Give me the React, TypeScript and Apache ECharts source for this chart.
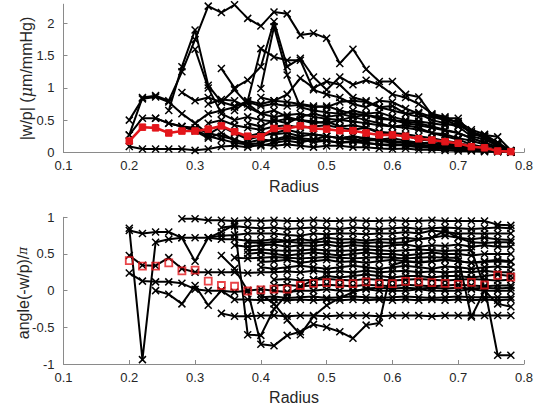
import React, { useEffect, useRef } from "react";
import * as echarts from "echarts";

const N = null;
const FONT = "'Liberation Sans', Arial, Helvetica, sans-serif";
const RED = "#e3161b";
const AXIS_GREY = "#8a8a8a";
const TEXT_DARK = "#262626";

const RADIUS = [0.2, 0.22, 0.24, 0.26, 0.28, 0.3, 0.32, 0.34, 0.36, 0.38, 0.4, 0.42, 0.44, 0.46, 0.48, 0.5, 0.52, 0.54, 0.56, 0.58, 0.6, 0.62, 0.64, 0.66, 0.68, 0.7, 0.72, 0.74, 0.76, 0.78];

const X_TICKS = [0.1, 0.2, 0.3, 0.4, 0.5, 0.6, 0.7, 0.8];
const TOP_Y_TICKS = [0, 0.5, 1, 1.5, 2];
const BOTTOM_Y_TICKS = [-1, -0.5, 0, 0.5, 1];

// |w/p| per vessel
const T1 = [0.09, 0.05, 0.05, 0.05, 0.05, 0.03, 0.05, 0.09, 0.1, 0.08, 0.12, 0.1, 0.12, 0.1, 0.08, 0.1, 0.1, 0.08, 0.08, 0.06, 0.05, 0.06, 0.04, 0.04, 0.03, 0.02, 0.02, 0.01, 0.01, 0.0];
const T2 = [0.27, 0.85, 0.88, 0.8, 1.25, 1.75, 2.27, 2.17, 2.29, 2.08, 1.96, 2.18, 2.15, 1.82, 1.85, 1.77, 1.38, 1.6, 1.29, 1.1, 1.1, 0.9, 0.86, 0.58, 0.53, 0.53, 0.27, 0.27, 0.24, 0.03];
const T3 = [0.5, 0.83, 0.86, 0.78, 0.6, 0.45, 0.28, 0.4, 0.3, 0.2, 0.25, 0.3, 0.35, 0.3, 0.28, 0.25, 0.22, 0.25, 0.2, 0.18, 0.15, 0.15, 0.12, 0.1, 0.08, 0.06, 0.05, 0.03, 0.02, 0.01];
const T4 = [0.27, 0.53, 0.53, 0.45, 0.4, 0.33, 0.22, 0.3, 0.18, 0.15, 0.2, 0.18, 0.22, 0.2, 0.16, 0.18, 0.15, 0.16, 0.14, 0.12, 0.12, 0.1, 0.08, 0.07, 0.06, 0.05, 0.04, 0.03, 0.02, 0.01];
const T5 = [N, N, 0.53, 0.45, 0.4, 0.35, 0.25, 0.2, 0.15, 0.12, 0.15, 0.2, 0.25, 0.22, 0.2, 0.25, 0.22, 0.2, 0.18, 0.2, 0.18, 0.15, 0.16, 0.12, 0.1, 0.08, 0.06, 0.05, 0.03, 0.01];
const T6 = [N, N, N, 0.65, 1.33, 1.9, 1.04, 0.78, 0.97, 0.75, 0.6, 0.65, 0.55, 0.5, 0.45, 0.48, 0.4, 0.42, 0.38, 0.3, 0.28, 0.26, 0.2, 0.18, 0.14, 0.12, 0.08, 0.05, 0.03, 0.01];
const T7 = [N, N, N, N, 0.93, 0.8, 0.85, 0.78, 0.72, 0.78, 0.72, 0.75, 0.72, 0.74, 0.7, 0.72, 0.65, 0.6, 0.58, 0.55, 0.5, 0.48, 0.45, 0.4, 0.35, 0.3, 0.22, 0.15, 0.08, 0.02];
const T8 = [N, N, N, N, N, 1.6, 1.0, 0.6, 0.5, 0.55, 0.5, 0.48, 0.52, 0.5, 0.48, 0.45, 0.5, 0.48, 0.45, 0.42, 0.4, 0.38, 0.35, 0.3, 0.28, 0.22, 0.18, 0.12, 0.06, 0.01];
const T9 = [N, N, N, N, N, N, N, 1.3, 1.0, 1.12, 1.33, 2.03, 1.33, 1.46, 1.17, 0.97, 1.17, 1.05, 1.12, 1.05, 0.9, 0.85, 0.75, 0.6, 0.55, 0.45, 0.3, 0.25, 0.15, 0.02];
const T10 = [N, N, N, N, N, N, N, N, 0.65, 0.8, 1.61, 1.48, 1.43, 1.43, 0.97, 0.9, 0.85, 0.75, 0.7, 0.8, 0.78, 0.68, 0.6, 0.5, 0.45, 0.4, 0.25, 0.2, 0.1, 0.01];
const T11 = [N, N, N, N, N, N, N, N, N, N, 0.99, 1.95, 1.2, 0.7, 0.65, 0.62, 0.6, 0.55, 0.58, 0.52, 0.5, 0.45, 0.42, 0.38, 0.34, 0.3, 0.22, 0.15, 0.08, 0.02];
const T12 = [N, N, N, N, N, N, 0.75, 0.82, 0.8, 0.7, 0.6, 0.55, 0.58, 0.6, 0.55, 0.52, 0.5, 0.55, 0.5, 0.45, 0.4, 0.42, 0.38, 0.3, 0.25, 0.2, 0.12, 0.08, 0.04, 0.01];
const T13 = [N, N, N, N, N, 0.45, 0.6, 0.65, 0.7, 0.8, 0.75, 0.8, 0.78, 0.75, 0.72, 0.7, 0.78, 0.8, 0.78, 0.7, 0.72, 0.6, 0.62, 0.55, 0.5, 0.48, 0.35, 0.28, 0.15, 0.02];
const T14 = [N, N, N, N, N, N, N, N, 0.3, 0.25, 0.3, 0.28, 0.3, 0.25, 0.28, 0.25, 0.22, 0.25, 0.22, 0.2, 0.22, 0.18, 0.15, 0.14, 0.12, 0.1, 0.08, 0.05, 0.03, 0.01];
const T15 = [N, N, N, N, 0.4, 0.38, 0.3, 0.25, 0.2, 0.12, 0.1, 0.15, 0.18, 0.15, 0.2, 0.18, 0.15, 0.18, 0.15, 0.12, 0.1, 0.12, 0.1, 0.08, 0.06, 0.05, 0.04, 0.02, 0.01, 0.0];
const T16 = [N, N, N, N, N, N, N, N, N, 0.45, 0.4, 0.5, 0.45, 0.55, 0.6, 0.55, 0.58, 0.65, 0.6, 0.62, 0.55, 0.5, 0.48, 0.45, 0.42, 0.45, 0.3, 0.22, 0.1, 0.02];
const T17 = [N, N, N, N, N, N, N, N, N, N, 0.85, 0.8, 0.9, 1.15, 1.0, 1.1, 1.05, 0.85, 0.8, 0.7, 0.65, 0.6, 0.55, 0.58, 0.5, 0.42, 0.32, 0.25, 0.12, 0.02];
const T18 = [N, N, N, N, N, N, 0.45, 0.5, 0.42, 0.38, 0.35, 0.4, 0.42, 0.38, 0.4, 0.42, 0.38, 0.35, 0.38, 0.32, 0.3, 0.28, 0.25, 0.22, 0.18, 0.15, 0.1, 0.06, 0.03, 0.01];
const TOP_MEAN = [0.175, 0.39, 0.38, 0.3, 0.33, 0.33, 0.36, 0.41, 0.32, 0.25, 0.24, 0.37, 0.37, 0.41, 0.37, 0.36, 0.335, 0.335, 0.3, 0.27, 0.27, 0.25, 0.21, 0.19, 0.165, 0.14, 0.087, 0.07, 0.02, 0.01];

// angle(-w/p)/pi per vessel
const B1 = [0.82, 0.78, 0.8, 0.8, 0.72, 0.4, 0.72, 0.7, 0.7, 0.68, 0.68, 0.7, 0.68, 0.7, 0.68, 0.72, 0.7, 0.7, 0.68, 0.7, 0.7, 0.72, 0.7, 0.72, 0.75, 0.72, 0.7, 0.72, 0.7, 0.69];
const B2 = [0.85, -0.94, 0.66, 0.7, 0.72, 0.72, 0.72, 0.75, 0.76, 0.78, 0.78, 0.78, 0.76, 0.75, 0.78, 0.77, 0.78, 0.78, 0.77, 0.78, 0.78, 0.8, 0.78, 0.82, 0.8, 0.78, 0.78, 0.78, 0.78, 0.78];
const B3 = [0.48, 0.345, 0.34, 0.45, 0.3, 0.25, 0.25, 0.25, 0.25, 0.24, 0.25, 0.25, 0.26, 0.25, 0.27, 0.25, 0.26, 0.25, 0.27, 0.25, 0.26, 0.27, 0.25, 0.26, 0.25, 0.26, 0.25, 0.27, 0.25, 0.25];
const B4 = [0.24, 0.13, 0.12, 0.12, 0.1, 0.02, 0.0, 0.0, -0.02, 0.0, 0.02, 0.0, -0.02, 0.0, 0.0, 0.02, 0.0, 0.0, 0.02, 0.0, 0.0, 0.0, 0.02, 0.0, 0.0, 0.0, 0.02, 0.0, 0.0, 0.0];
const B5 = [N, N, N, N, 0.98, 0.98, 0.96, 0.96, 0.95, 0.96, 0.95, 0.96, 0.95, 0.95, 0.96, 0.95, 0.95, 0.96, 0.95, 0.95, 0.96, 0.95, 0.95, 0.96, 0.95, 0.95, 0.95, 0.95, 0.9, 0.89];
const B6 = [N, N, 0.0, -0.05, -0.18, 0.07, -0.2, 0.0, -0.12, -0.12, -0.13, -0.12, -0.13, -0.12, -0.13, -0.12, -0.13, -0.12, -0.13, -0.12, -0.13, -0.12, -0.13, -0.12, -0.13, -0.12, -0.13, -0.12, -0.13, -0.12];
const B7 = [N, N, N, N, N, N, N, -0.31, -0.35, -0.35, -0.34, -0.34, -0.35, -0.34, -0.34, -0.35, -0.34, -0.34, -0.34, -0.35, -0.34, -0.34, -0.34, -0.35, -0.34, -0.34, -0.34, -0.34, -0.34, -0.34];
const B8 = [N, N, N, N, N, N, 0.72, 0.8, 0.9, -0.6, -0.61, -0.25, -0.05, 0.05, 0.15, 0.2, 0.18, 0.2, 0.22, 0.2, 0.18, 0.2, 0.2, 0.18, 0.2, 0.2, 0.18, 0.2, 0.22, 0.2];
const B9 = [N, N, N, N, N, N, N, 0.48, 0.3, 0.0, -0.73, -0.75, -0.61, -0.56, -0.46, -0.5, -0.56, -0.65, -0.47, -0.44, 0.35, 0.4, 0.38, 0.4, 0.42, 0.4, 0.38, 0.4, 0.42, 0.4];
const B10 = [N, N, N, N, N, N, N, N, 0.62, 0.6, 0.62, 0.63, 0.6, 0.62, 0.61, 0.63, 0.6, 0.62, 0.61, 0.6, 0.62, 0.63, 0.6, 0.62, 0.61, 0.63, 0.6, 0.62, 0.6, 0.6];
const B11 = [N, N, N, N, N, N, N, N, N, 0.5, 0.52, 0.5, 0.48, 0.5, 0.52, 0.5, 0.48, 0.5, 0.52, 0.5, 0.5, 0.48, 0.5, 0.52, 0.5, 0.5, 0.48, 0.5, 0.5, 0.5];
const B12 = [N, N, N, N, N, N, N, N, N, N, 0.39, 0.4, 0.42, 0.38, 0.4, 0.42, 0.39, 0.4, 0.38, 0.4, 0.42, 0.4, 0.39, 0.4, 0.42, 0.4, 0.38, 0.39, 0.4, 0.39];
const B13 = [N, N, N, N, N, N, N, N, N, N, 0.32, 0.3, 0.32, 0.34, 0.32, 0.3, 0.32, 0.34, 0.32, 0.3, 0.32, 0.34, 0.32, 0.3, 0.33, 0.32, 0.3, 0.32, 0.33, 0.32];
const B14 = [N, N, N, N, N, N, N, N, N, N, N, 0.07, 0.08, 0.06, 0.07, 0.08, 0.07, 0.06, 0.08, 0.07, 0.06, 0.08, 0.07, 0.06, 0.07, 0.08, 0.07, 0.06, 0.07, 0.07];
const B15 = [N, N, N, N, N, N, N, N, N, N, -0.09, -0.08, -0.1, -0.09, -0.08, -0.1, -0.09, -0.08, -0.09, -0.1, -0.09, -0.08, -0.09, -0.1, -0.09, -0.08, -0.09, -0.09, -0.09, -0.09];
const B16 = [N, N, N, N, N, N, N, N, N, 0.66, 0.65, 0.66, 0.67, 0.65, 0.66, 0.67, 0.65, 0.66, 0.65, 0.66, 0.65, 0.66, 0.7, 0.72, 0.82, 0.72, 0.66, 0.65, 0.66, 0.66];
const B17 = [N, N, N, N, N, N, N, N, N, 0.55, 0.56, 0.55, 0.54, 0.55, 0.56, 0.55, 0.54, 0.55, 0.56, 0.55, 0.54, 0.55, 0.56, 0.55, 0.54, 0.55, 0.55, 0.05, -0.88, -0.88];
const B18 = [N, N, N, N, N, N, N, N, 0.45, 0.44, 0.45, 0.46, 0.45, 0.44, 0.45, 0.46, 0.45, 0.44, 0.45, 0.46, 0.45, 0.44, 0.45, 0.46, 0.45, 0.45, -0.36, 0.0, -0.18, -0.22];
const B19 = [N, N, N, N, N, N, N, N, N, N, N, 0.15, 0.16, 0.14, 0.15, 0.16, 0.15, 0.14, 0.16, 0.15, 0.14, 0.15, 0.16, 0.15, 0.14, 0.15, 0.16, 0.15, 0.14, 0.15];
const B20 = [N, N, N, N, N, N, N, N, N, N, -0.05, -0.18, -0.4, -0.6, -0.35, -0.2, -0.1, -0.02, 0.03, 0.04, 0.03, 0.04, 0.03, 0.04, 0.03, 0.04, 0.03, 0.04, 0.03, 0.04];
const B21 = [N, N, N, N, N, N, N, 0.86, 0.88, 0.86, 0.85, 0.86, 0.84, 0.85, 0.86, 0.85, 0.84, 0.86, 0.85, 0.84, 0.85, 0.86, 0.84, 0.85, 0.86, 0.85, 0.84, 0.85, 0.86, 0.85];
const BOTTOM_MEAN = [0.41, 0.335, 0.335, 0.38, 0.27, 0.28, 0.13, 0.07, 0.06, -0.005, 0.01, 0.02, 0.02, 0.07, 0.1, 0.11, 0.095, 0.095, 0.12, 0.095, 0.095, 0.127, 0.12, 0.11, 0.1, 0.086, 0.113, 0.077, 0.21, 0.185];

const TOP_LINES = [T1, T2, T3, T4, T5, T6, T7, T8, T9, T10, T11, T12, T13, T14, T15, T16, T17, T18];
const BOTTOM_LINES = [B1, B2, B3, B4, B5, B6, B7, B8, B9, B10, B11, B12, B13, B14, B15, B16, B17, B18, B19, B20, B21];

const X_SYMBOL = "path://M0,0L10,10M10,0L0,10";

function pairs(vals: (number | null)[]) {
  const out: [number, number][] = [];
  vals.forEach((v, i) => {
    if (v !== null) out.push([RADIUS[i], v]);
  });
  return out;
}

function xAxis(gridIndex: number) {
  return {
    type: "value",
    gridIndex,
    min: 0.1,
    max: 0.8,
    interval: 0.1,
    axisLine: { show: true, onZero: false, lineStyle: { color: AXIS_GREY, width: 1 } },
    axisTick: { show: true, inside: true, length: 4, customValues: X_TICKS, lineStyle: { color: AXIS_GREY } },
    axisLabel: {
      color: TEXT_DARK,
      fontSize: 13,
      fontFamily: FONT,
      margin: 7,
      customValues: X_TICKS,
      formatter: (v: number) => v.toFixed(1),
    },
    splitLine: { show: false },
  };
}

function yAxis(gridIndex: number, min: number, max: number, ticks: number[]) {
  return {
    type: "value",
    gridIndex,
    min,
    max,
    axisLine: { show: true, onZero: false, lineStyle: { color: AXIS_GREY, width: 1 } },
    axisTick: { show: true, inside: true, length: 4, customValues: ticks, lineStyle: { color: AXIS_GREY } },
    axisLabel: {
      color: TEXT_DARK,
      fontSize: 13,
      fontFamily: FONT,
      margin: 9,
      customValues: ticks,
      formatter: (v: number) => String(Math.round(v * 10) / 10),
    },
    splitLine: { show: false },
  };
}

export default function App() {
  const ref = useRef<HTMLDivElement>(null);

  useEffect(() => {
    if (!ref.current) return;
    const chart = echarts.init(ref.current, undefined, { renderer: "svg" });

    const blackSeries = (lines: (number | null)[][], idx: number) =>
      lines.map((arr) => ({
        type: "line",
        xAxisIndex: idx,
        yAxisIndex: idx,
        data: pairs(arr),
        symbol: X_SYMBOL,
        symbolSize: 7,
        showAllSymbol: true,
        silent: true,
        lineStyle: { color: "#000", width: 2 },
        itemStyle: { color: "#000", borderColor: "#000", borderWidth: 1.5 },
        emphasis: { disabled: true },
        z: 2,
      }));

    chart.setOption({
      animation: false,
      backgroundColor: "#fff",
      grid: [
        { left: 63.5, top: 4.2, width: 460.5, height: 148.1 },
        { left: 63.5, top: 217.3, width: 460.5, height: 146.7 },
      ],
      xAxis: [xAxis(0), xAxis(1)],
      yAxis: [yAxis(0, 0, 2.3, TOP_Y_TICKS), yAxis(1, -1, 1, BOTTOM_Y_TICKS)],
      series: [
        ...blackSeries(TOP_LINES, 0),
        ...blackSeries(BOTTOM_LINES, 1),
        {
          type: "line",
          xAxisIndex: 0,
          yAxisIndex: 0,
          data: pairs(TOP_MEAN),
          symbol: "rect",
          symbolSize: 6.5,
          showAllSymbol: true,
          silent: true,
          lineStyle: { color: RED, width: 2.6 },
          itemStyle: { color: RED, borderColor: RED, borderWidth: 1 },
          z: 5,
        },
        {
          type: "scatter",
          xAxisIndex: 1,
          yAxisIndex: 1,
          data: pairs(BOTTOM_MEAN),
          symbol: "rect",
          symbolSize: 7,
          silent: true,
          itemStyle: { color: "rgba(0,0,0,0)", borderColor: RED, borderWidth: 1.8 },
          z: 5,
        },
      ],
      graphic: [
        {
          type: "text",
          x: 26.5,
          y: 78.5,
          rotation: Math.PI / 2,
          style: {
            text: "|w/p| ({i|μ}m/mmHg)",
            font: `16px ${FONT}`,
            fill: TEXT_DARK,
            align: "center",
            verticalAlign: "middle",
            rich: { i: { fontStyle: "italic", fontSize: 16, fontFamily: "'DejaVu Serif', serif", fill: TEXT_DARK } },
          },
        },
        {
          type: "text",
          x: 23,
          y: 293,
          rotation: Math.PI / 2,
          style: {
            text: "angle(-w/p)/{p|π}",
            font: `16px ${FONT}`,
            fill: TEXT_DARK,
            align: "center",
            verticalAlign: "middle",
            rich: { p: { fontStyle: "italic", fontSize: 12, fontFamily: "'DejaVu Serif', serif", fill: TEXT_DARK } },
          },
        },
        {
          type: "text",
          x: 294,
          y: 186,
          style: { text: "Radius", font: `16px ${FONT}`, fill: TEXT_DARK, align: "center", verticalAlign: "middle" },
        },
        {
          type: "text",
          x: 294,
          y: 397,
          style: { text: "Radius", font: `16px ${FONT}`, fill: TEXT_DARK, align: "center", verticalAlign: "middle" },
        },
      ],
    });

    return () => chart.dispose();
  }, []);

  return (
    <div
      ref={ref}
      style={{ position: "absolute", left: 0, top: 0, width: 539, height: 410, background: "#fff" }}
    />
  );
}
